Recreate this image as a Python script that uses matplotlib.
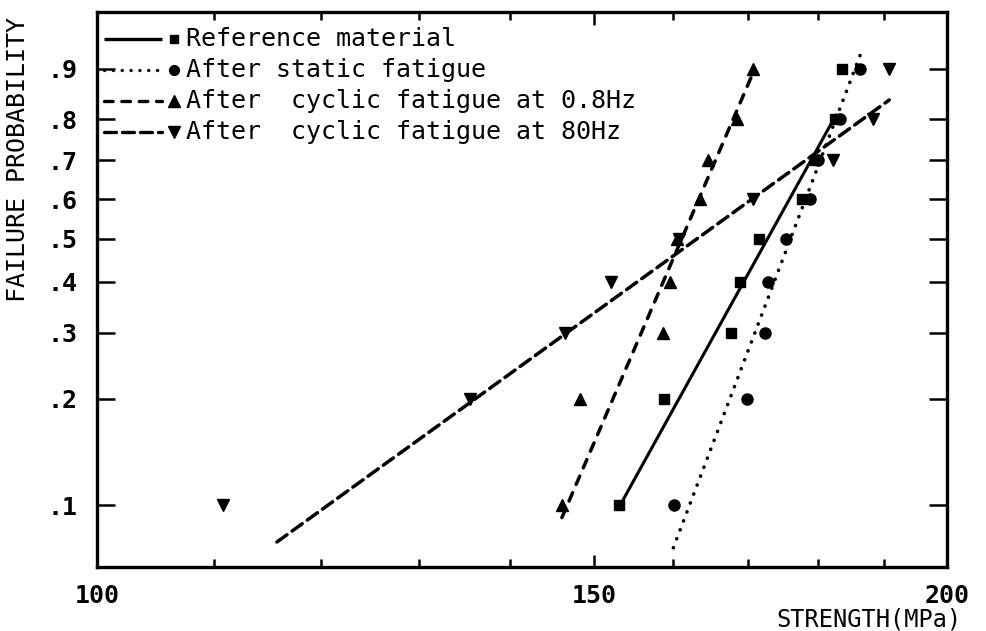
import numpy as np
import matplotlib
matplotlib.use("Agg")
import matplotlib.pyplot as plt
from matplotlib.ticker import FixedLocator, NullFormatter

# failure probability of each ranked specimen
prob = [0.1, 0.2, 0.3, 0.4, 0.5, 0.6, 0.7, 0.8, 0.9]

# strengths (MPa)
ref_strength = [153.1, 158.8, 167.7, 168.9, 171.6, 177.7, 179.6, 182.6, 183.6]
static_strength = [160.1, 169.9, 172.4, 172.8, 175.4, 178.9, 180.0, 183.3, 186.3]
cyc08_strength = [146.1, 148.3, 158.6, 159.6, 160.5, 163.5, 164.6, 168.5, 170.7]
cyc80_strength = [110.8, 135.6, 146.5, 152.1, 160.7, 170.7, 182.2, 188.3, 190.8]

# fitted Weibull lines (end points)
ref_fit_s = [153.1, 182.7]
ref_fit_p = [0.099, 0.81]
static_fit_s = [160.0, 186.3]
static_fit_p = [0.075, 0.92]
cyc08_fit_s = [146.1, 170.6]
cyc08_fit_p = [0.092, 0.889]
cyc80_fit_s = [115.8, 190.8]
cyc80_fit_p = [0.078, 0.842]

labels = ["Reference material", "After static fatigue",
          "After  cyclic fatigue at 0.8Hz", "After  cyclic fatigue at 80Hz"]

FONT = "DejaVu Sans Mono"
FS = 18


def weib(p):
    p = np.clip(np.asarray(p, dtype=float), 1e-9, 1 - 1e-9)
    return np.log(-np.log(1 - p))


def weib_inv(w):
    return 1 - np.exp(-np.exp(w))


fig = plt.figure(figsize=(9.86, 6.31), dpi=100)
ax = fig.add_axes([97 / 986, 1 - 567 / 631, 850 / 986, 555 / 631])

ax.set_xscale("log")
ax.set_yscale("function", functions=(weib, weib_inv))
ax.set_xlim(100, 200)
ax.set_ylim(0.0658, 0.9678)

dash08 = (0, (2.6, 2.6))
dash80 = (0, (3.6, 1.8))
dots = (0, (0.05, 2.6))

ax.plot(ref_fit_s, ref_fit_p, color="k", lw=2.2, solid_capstyle="round")
ax.plot(static_fit_s, static_fit_p, color="k", lw=2.6, linestyle=dots,
        dash_capstyle="round")
ax.plot(cyc08_fit_s, cyc08_fit_p, color="k", lw=2.5, linestyle=dash08,
        dash_capstyle="round")
ax.plot(cyc80_fit_s, cyc80_fit_p, color="k", lw=2.5, linestyle=dash80,
        dash_capstyle="round")

ax.plot(ref_strength, prob, "s", color="k", ms=7, ls="none")
ax.plot(static_strength, prob, "o", color="k", ms=8, ls="none")
ax.plot(cyc08_strength, prob, "^", color="k", ms=9, ls="none")
ax.plot(cyc80_strength, prob, "v", color="k", ms=9, ls="none")

# hand-made legend: line sample, marker, then text
styles = [("-", "s", 7), (dots, "o", 8), (dash08, "^", 9), (dash80, "v", 9)]
rows = [39, 70, 101, 132]
for (ls, mk, ms), lab, yr in zip(styles, labels, rows):
    yy = 1 - (yr - 12) / 555
    x0 = (104 - 97) / 850
    x1 = (162 - 97) / 850
    xm = (174 - 97) / 850
    ax.plot([x0, x1], [yy, yy], transform=ax.transAxes, color="k", lw=2.4,
            linestyle=ls, dash_capstyle="round", solid_capstyle="butt")
    ax.plot([xm], [yy], mk, color="k", ms=ms - 1, transform=ax.transAxes)
    ax.text((186 - 97) / 850, yy, lab, transform=ax.transAxes, va="center",
            ha="left", family=FONT, fontsize=FS)

ax.xaxis.set_major_locator(FixedLocator([100, 150, 200]))
ax.xaxis.set_minor_locator(FixedLocator([110, 120, 130, 140, 160, 170, 180, 190]))
ax.xaxis.set_minor_formatter(NullFormatter())
ax.set_xticklabels(["100", "150", "200"], family=FONT, fontsize=FS,
                   fontweight="bold")

ax.yaxis.set_major_locator(FixedLocator(prob))
ax.yaxis.set_minor_locator(FixedLocator([]))
ax.set_yticklabels([".%d" % round(p * 10) for p in prob], family=FONT,
                   fontsize=FS, fontweight="bold")

ax.tick_params(which="both", direction="in", top=True, right=True, width=1.8)
ax.tick_params(axis="y", which="major", length=13, pad=14)
ax.tick_params(axis="x", which="major", length=9, pad=12)
ax.tick_params(axis="x", which="minor", length=6)

for sp in ax.spines.values():
    sp.set_linewidth(2.4)

fig.text(18 / 986, 1 - 160 / 631, "FAILURE PROBABILITY", rotation=90,
         ha="center", va="center", family=FONT, fontsize=FS)
fig.text(962 / 986, 1 - 619 / 631, "STRENGTH(MPa)", ha="right", va="center",
         family=FONT, fontsize=FS - 1)

fig.savefig("out.png", dpi=100)
